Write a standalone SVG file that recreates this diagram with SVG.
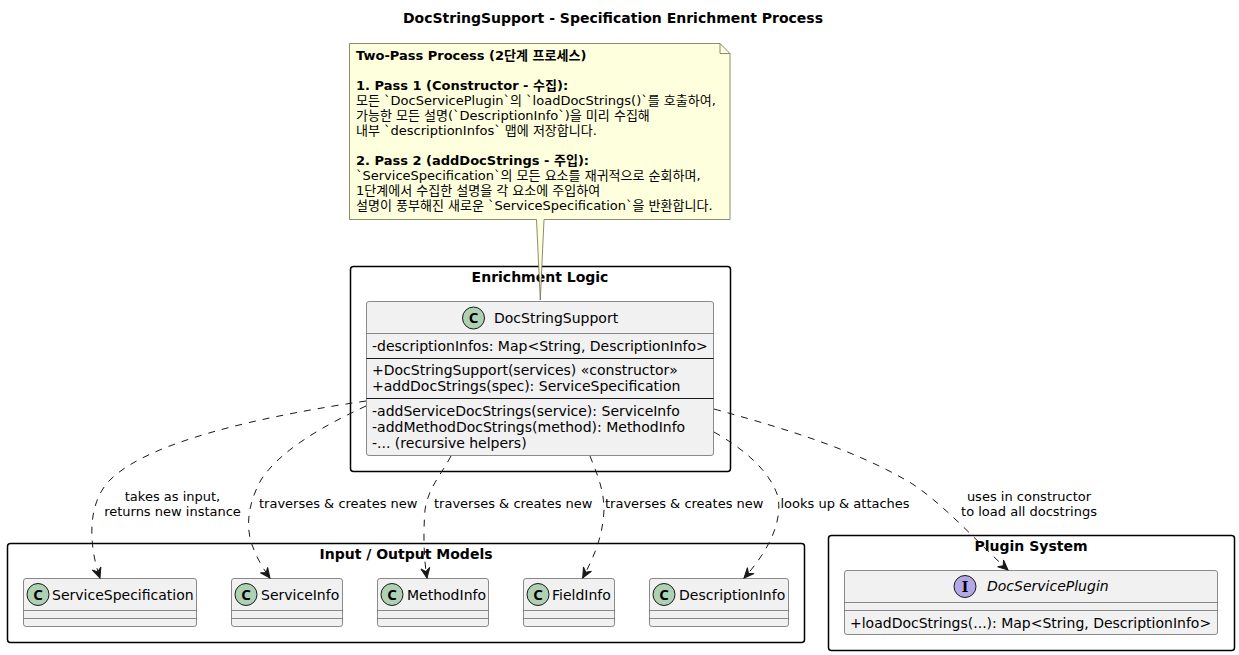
<svg xmlns="http://www.w3.org/2000/svg" width="1239" height="655" viewBox="0 0 1239 655">
<style>
text{font-family:"DejaVu Sans","Noto Sans CJK KR",sans-serif;fill:#000}
.t{font-size:14px}
.n{font-size:13px}
.b{font-weight:bold}
.m{text-anchor:middle}
.g{fill:none;stroke:#000;stroke-width:1.5}
.c{fill:#F1F1F1;stroke:#5A5A5A;stroke-width:.7}
.l{stroke:#5A5A5A;stroke-width:.7;fill:none}
.k{stroke:#000;stroke-width:.9;fill:none}
.e{fill:none;stroke:#181818;stroke-width:1;stroke-dasharray:7 7}
.h{fill:#181818;stroke:#181818}
.ci{stroke:#181818;stroke-width:1}
.gl{font-size:14px;font-weight:bold}
text.ic{font-family:"Noto Sans",sans-serif;font-size:15px;font-weight:bold;text-anchor:middle}
text.ii{font-family:"DejaVu Serif",serif;font-size:14px;font-weight:bold;text-anchor:middle}
.nt{fill:#FEFFDD;stroke:#6E6E50;stroke-width:.8}
</style>
<defs>
<marker id="a" markerUnits="userSpaceOnUse" markerWidth="14" markerHeight="12" refX="11" refY="6" orient="auto"><path d="M1,1.5 L11,6 L1,10.5 L4.5,6 Z" class="h"/></marker>
</defs>
<text x="613" y="23" class="t b m">DocStringSupport - Specification Enrichment Process</text>
<g id="group-enrichment"><rect class="g" x="350.5" y="266.5" width="380" height="205" rx="3"/><text x="540" y="282" class="gl m">Enrichment Logic</text></g>
<g id="group-models"><rect class="g" x="7.5" y="543.5" width="797" height="99" rx="3"/><text x="406" y="559" class="gl m">Input / Output Models</text></g>
<g id="group-plugin"><rect class="g" x="828.5" y="535.5" width="406" height="115" rx="3"/><text x="1031" y="551" class="gl m">Plugin System</text></g>
<g id="note">
<path class="nt" d="M349.5,43.5 H720 L730,53.5 V219.5 H544 L540.3,300 L536.5,219.5 H349.5 Z"/>
<path d="M720,43.5 V53.5 H730" fill="none" stroke="#6E6E50" stroke-width=".8"/>
<text x="356" y="60" class="n b">Two-Pass Process (2단계 프로세스)</text>
<text x="356" y="90" class="n b">1. Pass 1 (Constructor - 수집):</text>
<text x="356" y="105" class="n">모든 `DocServicePlugin`의 `loadDocStrings()`를 호출하여,</text>
<text x="356" y="120" class="n">가능한 모든 설명(`DescriptionInfo`)을 미리 수집해</text>
<text x="356" y="135" class="n">내부 `descriptionInfos` 맵에 저장합니다.</text>
<text x="356" y="165" class="n b">2. Pass 2 (addDocStrings - 주입):</text>
<text x="356" y="180" class="n">`ServiceSpecification`의 모든 요소를 재귀적으로 순회하며,</text>
<text x="356" y="195" class="n">1단계에서 수집한 설명을 각 요소에 주입하여</text>
<text x="356" y="210" class="n">설명이 풍부해진 새로운 `ServiceSpecification`을 반환합니다.</text>
</g>
<g id="DocStringSupport">
<rect class="c" x="366.5" y="301.5" width="347" height="154" rx="2.5"/>
<path class="l" d="M366.5,333.5 H713.5"/>
<path class="k" d="M366.5,358.5 H713.5 M366.5,398.5 H713.5"/>
<circle class="ci" cx="473.5" cy="318" r="11" fill="#ADD1B2"/>
<text x="473.5" y="323.3" class="ic">C</text>
<text x="494" y="323" class="t">DocStringSupport</text>
<text x="372" y="351" class="t">-descriptionInfos: Map&lt;String, DescriptionInfo&gt;</text>
<text x="372" y="375" class="t">+DocStringSupport(services) «constructor»</text>
<text x="372" y="391" class="t">+addDocStrings(spec): ServiceSpecification</text>
<text x="372" y="416" class="t">-addServiceDocStrings(service): ServiceInfo</text>
<text x="372" y="432" class="t">-addMethodDocStrings(method): MethodInfo</text>
<text x="372" y="448" class="t">-... (recursive helpers)</text>
</g>
<g id="ServiceSpecification"><rect class="c" x="23.5" y="578.5" width="173" height="48" rx="2.5"/><path class="l" d="M23.5,610.5 H196.5 M23.5,618.5 H196.5"/><circle class="ci" cx="38" cy="594.5" r="11" fill="#ADD1B2"/><text x="38" y="599.8" class="ic">C</text><text x="52" y="600" class="t">ServiceSpecification</text></g>
<g id="ServiceInfo"><rect class="c" x="231.5" y="578.5" width="111" height="48" rx="2.5"/><path class="l" d="M231.5,610.5 H342.5 M231.5,618.5 H342.5"/><circle class="ci" cx="246" cy="594.5" r="11" fill="#ADD1B2"/><text x="246" y="599.8" class="ic">C</text><text x="261" y="600" class="t">ServiceInfo</text></g>
<g id="MethodInfo"><rect class="c" x="377.5" y="578.5" width="111" height="48" rx="2.5"/><path class="l" d="M377.5,610.5 H488.5 M377.5,618.5 H488.5"/><circle class="ci" cx="392" cy="594.5" r="11" fill="#ADD1B2"/><text x="392" y="599.8" class="ic">C</text><text x="407" y="600" class="t">MethodInfo</text></g>
<g id="FieldInfo"><rect class="c" x="523.5" y="578.5" width="91" height="48" rx="2.5"/><path class="l" d="M523.5,610.5 H614.5 M523.5,618.5 H614.5"/><circle class="ci" cx="538" cy="594.5" r="11" fill="#ADD1B2"/><text x="538" y="599.8" class="ic">C</text><text x="552" y="600" class="t">FieldInfo</text></g>
<g id="DescriptionInfo"><rect class="c" x="649.5" y="578.5" width="139" height="48" rx="2.5"/><path class="l" d="M649.5,610.5 H788.5 M649.5,618.5 H788.5"/><circle class="ci" cx="664" cy="594.5" r="11" fill="#ADD1B2"/><text x="664" y="599.8" class="ic">C</text><text x="679" y="600" class="t">DescriptionInfo</text></g>
<g id="DocServicePlugin"><rect class="c" x="844.5" y="570.5" width="373" height="64" rx="2.5"/><path class="l" d="M844.5,602.5 H1217.5 M844.5,610.5 H1217.5"/><circle class="ci" cx="965" cy="586.5" r="11" fill="#B4A7E5"/><text x="965" y="591.5" class="ii">I</text><text x="987" y="591" class="t" font-style="italic">DocServicePlugin</text><text x="850" y="628" class="t">+loadDocStrings(...): Map&lt;String, DescriptionInfo&gt;</text></g>
<g id="connectors">
<path class="e" marker-end="url(#a)" d="M366,401 C270,415 150,440 110,480 C85,505 90,550 100,578"/>
<path class="e" marker-end="url(#a)" d="M366,406 C325,425 280,450 261,480 C247,505 245,530 254,550 C258,560 264,570 270,578"/>
<path class="e" marker-end="url(#a)" d="M451,456 C441,475 428,488 425,510 C423,535 424,560 427,578"/>
<path class="e" marker-end="url(#a)" d="M590,456 C596,472 604,488 604,510 C603,535 595,555 582.7,578"/>
<path class="e" marker-end="url(#a)" d="M714,432 C742,448 770,470 778,497 C783,525 765,555 744,578"/>
<path class="e" marker-end="url(#a)" d="M714,409 C790,430 855,450 911,483 C945,505 980,545 1008,570"/>
<g class="n">
<text x="172.5" y="501" class="n m">takes as input,</text>
<text x="172.5" y="516" class="n m">returns new instance</text>
<text x="259" y="508" class="n">traverses &amp; creates new</text>
<text x="434" y="508" class="n">traverses &amp; creates new</text>
<text x="605" y="508" class="n">traverses &amp; creates new</text>
<text x="780.5" y="508" class="n">looks up &amp; attaches</text>
<text x="1029" y="501" class="n m">uses in constructor</text>
<text x="1029" y="516" class="n m">to load all docstrings</text>
</g>
</g>
</svg>
